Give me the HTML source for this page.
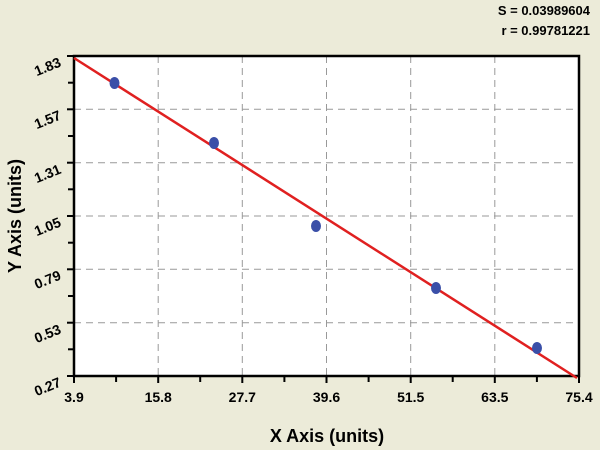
<!DOCTYPE html>
<html><head><style>
html,body{margin:0;padding:0;background:#ecebd9;}
svg{display:block;font-family:"Liberation Sans",Arial,sans-serif;}
</style></head><body>
<svg width="600" height="450" viewBox="0 0 600 450">
<rect width="600" height="450" fill="#ecebd9"/>
<text x="590" y="15" text-anchor="end" font-size="13" font-weight="bold">S = 0.03989604</text>
<text x="590" y="35" text-anchor="end" font-size="13" font-weight="bold">r = 0.99781221</text>
<rect x="74" y="56" width="505" height="320" fill="#fff"/>
<g stroke="#999" stroke-dasharray="7,5" stroke-width="1">
<line x1="158.2" y1="56" x2="158.2" y2="376"/>
<line x1="242.3" y1="56" x2="242.3" y2="376"/>
<line x1="326.5" y1="56" x2="326.5" y2="376"/>
<line x1="410.7" y1="56" x2="410.7" y2="376"/>
<line x1="494.8" y1="56" x2="494.8" y2="376"/>
<line x1="74" y1="109.3" x2="579" y2="109.3"/>
<line x1="74" y1="162.7" x2="579" y2="162.7"/>
<line x1="74" y1="216" x2="579" y2="216"/>
<line x1="74" y1="269.3" x2="579" y2="269.3"/>
<line x1="74" y1="322.7" x2="579" y2="322.7"/>
</g>
<rect x="74" y="56" width="505" height="320" fill="none" stroke="#000" stroke-width="2.5"/>
<g stroke="#000" stroke-width="2">
<line x1="74" y1="376" x2="74" y2="383"/><line x1="116.1" y1="376" x2="116.1" y2="382"/>
<line x1="158.2" y1="376" x2="158.2" y2="383"/><line x1="200.2" y1="376" x2="200.2" y2="382"/>
<line x1="242.3" y1="376" x2="242.3" y2="383"/><line x1="284.4" y1="376" x2="284.4" y2="382"/>
<line x1="326.5" y1="376" x2="326.5" y2="383"/><line x1="368.6" y1="376" x2="368.6" y2="382"/>
<line x1="410.7" y1="376" x2="410.7" y2="383"/><line x1="452.7" y1="376" x2="452.7" y2="382"/>
<line x1="494.8" y1="376" x2="494.8" y2="383"/><line x1="536.9" y1="376" x2="536.9" y2="382"/>
<line x1="579" y1="376" x2="579" y2="383"/>
<line x1="67" y1="56" x2="74" y2="56"/><line x1="68" y1="82.7" x2="74" y2="82.7"/>
<line x1="67" y1="109.3" x2="74" y2="109.3"/><line x1="68" y1="136" x2="74" y2="136"/>
<line x1="67" y1="162.7" x2="74" y2="162.7"/><line x1="68" y1="189.3" x2="74" y2="189.3"/>
<line x1="67" y1="216" x2="74" y2="216"/><line x1="68" y1="242.7" x2="74" y2="242.7"/>
<line x1="67" y1="269.3" x2="74" y2="269.3"/><line x1="68" y1="296" x2="74" y2="296"/>
<line x1="67" y1="322.7" x2="74" y2="322.7"/><line x1="68" y1="349.3" x2="74" y2="349.3"/>
<line x1="67" y1="376" x2="74" y2="376"/>
</g>
<g font-size="14" font-weight="bold" text-anchor="middle">
<text x="74" y="402">3.9</text><text x="158.2" y="402">15.8</text><text x="242.3" y="402">27.7</text>
<text x="326.5" y="402">39.6</text><text x="410.7" y="402">51.5</text><text x="494.8" y="402">63.5</text>
<text x="579" y="402">75.4</text>
</g>
<g font-size="14" font-weight="bold" text-anchor="end">
<text transform="translate(62,66) rotate(-22)">1.83</text>
<text transform="translate(62,119) rotate(-22)">1.57</text>
<text transform="translate(62,173) rotate(-22)">1.31</text>
<text transform="translate(62,226) rotate(-22)">1.05</text>
<text transform="translate(62,279) rotate(-22)">0.79</text>
<text transform="translate(62,333) rotate(-22)">0.53</text>
<text transform="translate(62,386) rotate(-22)">0.27</text>
</g>
<text x="327" y="442" text-anchor="middle" font-size="18" font-weight="bold">X Axis (units)</text>
<text transform="translate(21,216) rotate(-90)" text-anchor="middle" font-size="18" font-weight="bold">Y Axis (units)</text>
<line x1="74" y1="58" x2="577" y2="378" stroke="#e02020" stroke-width="2.5"/>
<g fill="#3a4fa8">
<ellipse cx="114.5" cy="83" rx="5" ry="6"/>
<ellipse cx="214" cy="143" rx="5" ry="6"/>
<ellipse cx="316" cy="226" rx="5" ry="6"/>
<ellipse cx="436" cy="288" rx="5" ry="6"/>
<ellipse cx="537" cy="348" rx="5" ry="6"/>
</g>
</svg>
</body></html>
